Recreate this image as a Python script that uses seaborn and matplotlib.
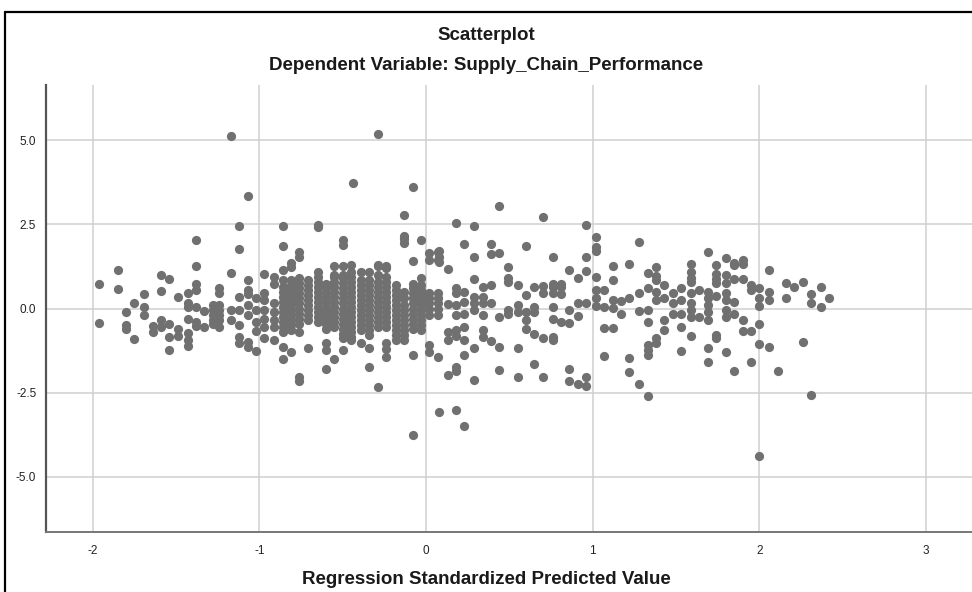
import matplotlib.pyplot as plt
import pandas as pd
import seaborn as sns
from matplotlib.lines import Line2D

# Standardized predicted values (x columns) and standardized residuals (y),
# read off the SPSS scatterplot, grouped by the vertical columns of points.

# left tail
left_pred = [-1.96, -1.85, -1.80, -1.75, -1.69, -1.64, -1.59, -1.54, -1.49,
             -1.43, -1.38, -1.33, -1.28, -1.24, -1.17, -1.12, -1.07, -1.02,
             -0.97, -0.91, -0.86, -0.81, -0.76]
left_resid = [
    [0.73, -0.42],
    [1.14, 0.57],
    [-0.10, -0.48, -0.60],
    [0.15, -0.90],
    [0.43, 0.05, -0.20],
    [-0.53, -0.70],
    [0.99, 0.52, -0.35, -0.55],
    [0.89, -0.47, -0.85, -1.24],
    [0.33, -0.60, -0.82],
    [0.45, 0.15, 0.05, -0.30, -0.74, -0.94, -1.12],
    [2.05, 1.26, 0.74, 0.54, 0.05, -0.40, -0.53],
    [-0.07, -0.55],
    [0.10, -0.05, -0.20, -0.35, -0.45],
    [0.60, 0.45, 0.10, -0.05, -0.20, -0.35, -0.55],
    [5.13, 1.06, -0.05, -0.35],
    [2.44, 1.76, 0.35, -0.05, -0.50, -0.86, -1.04],
    [3.35, 0.84, 0.54, 0.43, 0.10, -0.20, -0.99, -1.16],
    [0.30, -0.05, -0.40, -0.67, -1.26],
    [1.04, 0.45, 0.25, -0.05, -0.30, -0.55, -0.89],
    [0.94, 0.74, 0.15, -0.10, -0.35, -0.55, -0.94],
    [2.44, 1.87, 1.16, 0.84, 0.65, 0.50, 0.35, 0.20, 0.05, -0.10, -0.25,
     -0.40, -0.55, -0.70, -1.16, -1.49],
    [1.36, 1.24, 0.85, 0.70, 0.55, 0.40, 0.25, 0.10, -0.05, -0.20, -0.35,
     -0.50, -0.65, -1.29],
    [1.68, 1.52, 0.90, 0.75, 0.60, 0.45, 0.30, 0.15, 0.00, -0.15, -0.30,
     -0.45, -0.70, -2.04, -2.15],
]

# dense middle
core_pred = [-0.71, -0.65, -0.60, -0.55, -0.50, -0.45, -0.44, -0.39, -0.34,
             -0.29, -0.24, -0.18, -0.13, -0.08, -0.03, 0.02, 0.07]
core_resid = [
    [0.84, 0.70, 0.55, 0.40, 0.25, 0.10, -0.05, -0.20, -0.35, -1.19],
    [2.48, 2.43, 1.08, 0.95, 0.80, 0.65, 0.50, 0.35, 0.20, 0.05, -0.10,
     -0.25, -0.40],
    [0.74, 0.60, 0.45, 0.30, 0.15, 0.00, -0.15, -0.30, -0.45, -0.60, -1.04,
     -1.24, -1.79],
    [1.27, 1.00, 0.95, 0.80, 0.65, 0.50, 0.35, 0.20, 0.05, -0.10, -0.25,
     -0.40, -0.55, -1.49],
    [2.03, 1.88, 1.27, 1.00, 0.90, 0.75, 0.60, 0.45, 0.30, 0.15, 0.00,
     -0.15, -0.30, -0.45, -0.60, -0.75, -0.89, -1.24],
    [1.30, 1.10, 0.95, 0.80, 0.65, 0.50, 0.35, 0.20, 0.05, -0.10, -0.25,
     -0.40, -0.55, -0.70, -0.85, -0.94],
    [3.74],
    [1.09, 0.85, 0.70, 0.55, 0.40, 0.25, 0.10, -0.05, -0.20, -0.35, -0.50,
     -0.65, -1.04],
    [1.09, 0.85, 0.70, 0.55, 0.40, 0.25, 0.10, -0.05, -0.20, -0.35, -0.50,
     -0.65, -0.80, -1.19, -1.74],
    [5.19, 1.30, 1.27, 1.00, 0.80, 0.65, 0.50, 0.35, 0.20, 0.05, -0.10,
     -0.25, -0.40, -0.55, -2.33],
    [1.27, 1.20, 0.95, 0.80, 0.65, 0.50, 0.35, 0.20, 0.05, -0.10, -0.25,
     -0.40, -0.55, -1.04, -1.20, -1.44],
    [0.70, 0.55, 0.40, 0.25, 0.10, -0.05, -0.20, -0.35, -0.50, -0.65,
     -0.80, -0.94],
    [2.77, 2.17, 2.07, 1.94, 0.50, 0.30, 0.10, -0.05, -0.20, -0.35, -0.50,
     -0.65, -0.80, -0.94],
    [3.62, 1.41, 0.74, 0.60, 0.45, 0.30, 0.15, 0.00, -0.15, -0.30, -0.45,
     -0.60, -1.39, -3.76],
    [2.05, 0.90, 0.70, 0.55, 0.40, 0.25, 0.10, -0.05, -0.20, -0.35, -0.50,
     -0.65],
    [1.64, 1.44, 0.45, 0.30, 0.15, 0.00, -0.20, -1.09, -1.29],
    [1.68, 1.44, 0.45, 0.30, 0.15, 0.00, -0.20, -1.44],
]

# right side
right_pred = [0.08, 0.13, 0.18, 0.23, 0.29, 0.34, 0.39, 0.44, 0.49, 0.55,
              0.60, 0.65, 0.70, 0.76, 0.81, 0.86, 0.91, 0.96, 1.02, 1.07,
              1.12, 1.17, 1.22, 1.28, 1.33, 1.38, 1.43, 1.48, 1.53, 1.59,
              1.64, 1.69, 1.74, 1.80, 1.85, 1.90, 1.95, 2.00, 2.06, 2.11,
              2.16, 2.21, 2.26, 2.31, 2.37, 2.42]
right_resid = [
    [1.71, 1.52, 1.39, -3.08],
    [1.19, 0.13, -0.70, -0.94, -1.99],
    [2.55, 0.60, 0.45, 0.10, -0.20, -0.65, -0.82, -1.74, -1.85, -3.03],
    [1.91, 0.48, 0.20, -0.15, -0.55, -0.94, -1.39, -3.50],
    [2.45, 1.54, 0.87, 0.35, 0.15, -0.05, -1.19, -2.12],
    [0.64, 0.35, 0.15, -0.20, -0.65, -0.85],
    [1.91, 1.62, 0.71, 0.15, -0.97],
    [3.04, 1.65, -0.25, -1.15, -1.82],
    [1.24, 0.92, 0.79, -0.05, -0.15],
    [0.70, 0.10, -0.10, -1.17, -2.05],
    [1.86, 0.41, -0.10, -0.34, -0.61],
    [0.65, 0.05, -0.10, -0.75, -1.64],
    [2.71, 0.67, 0.45, -0.87, -2.04],
    [1.54, 0.74, 0.64, 0.45, 0.04, -0.31, -0.85, -0.94],
    [0.74, 0.64, 0.44, -0.40],
    [1.14, -0.05, -0.42, -1.79, -2.15],
    [0.91, 0.15, -0.21, -2.25],
    [2.47, 1.52, 1.13, 0.15, -2.03, -2.31],
    [2.13, 1.83, 1.71, 0.95, 0.54, 0.30, 0.08],
    [0.55, 0.03, -0.58, -1.41],
    [1.26, 0.84, 0.26, 0.02, -0.57],
    [0.21, -0.16],
    [1.32, 0.32, -1.46, -1.89],
    [1.99, 0.45, -0.06, -2.25],
    [1.05, 0.60, -0.05, -0.40, -1.09, -1.24, -1.37, -2.60],
    [1.24, 0.96, 0.85, 0.50, 0.25, -0.87, -1.02],
    [0.69, 0.30, -0.35, -0.65],
    [0.45, 0.15, -0.15],
    [0.62, 0.25, -0.15, -0.56, -1.26],
    [1.33, 1.10, 0.90, 0.78, 0.45, 0.15, -0.05, -0.25, -0.81],
    [0.55, -0.25],
    [1.68, 0.50, 0.30, 0.10, -0.10, -0.35, -1.19, -1.59],
    [1.28, 1.04, 0.89, 0.76, 0.36, -0.79, -0.89],
    [1.49, 0.99, 0.75, 0.45, 0.25, -0.05, -0.24, -1.29],
    [1.34, 1.29, 0.88, 0.20, -0.17, -1.86],
    [1.44, 1.31, 0.88, -0.34, -0.66],
    [0.69, 0.54, -0.67, -1.59],
    [0.60, 0.30, 0.08, -0.45, -1.06, -4.38],
    [1.16, 0.50, 0.26, -1.16],
    [-1.86],
    [0.76, 0.31],
    [0.65],
    [0.80, -0.99],
    [0.42, 0.17, -2.57],
    [0.63, 0.03],
    [0.31],
]

rows = []
for preds, resids in [(left_pred, left_resid), (core_pred, core_resid),
                      (right_pred, right_resid)]:
    for p, ys in zip(preds, resids):
        for r in ys:
            rows.append((p, r))
df = pd.DataFrame(rows, columns=["pred", "resid"])

sns.set_style("white")
plt.rcParams["font.family"] = ["Liberation Sans", "DejaVu Sans"]

fig = plt.figure(figsize=(9.72, 5.92), dpi=100)
ax = fig.add_axes([46 / 972, 60 / 592, 926 / 972, 447 / 592])
sns.scatterplot(data=df, x="pred", y="resid", ax=ax, color="#707070",
                s=44, linewidth=0, alpha=1, zorder=3)

ax.set_xlim(-2.28, 3.275)
ax.set_ylim(-6.65, 6.65)
ax.set_xticks([-2, -1, 0, 1, 2, 3])
ax.set_xticklabels(["-2", "-1", "0", "1", "2", "3"])
ax.set_yticks([-5, -2.5, 0, 2.5, 5])
ax.set_yticklabels(["-5.0", "-2.5", "0.0", "2.5", "5.0"])
ax.tick_params(length=0, labelsize=8.5, colors="#222222")
ax.tick_params(axis="x", pad=9)
ax.tick_params(axis="y", pad=7)
ax.set_xlabel("")
ax.set_ylabel("")
ax.grid(True, color="#cfcfcf", linewidth=1.1)
ax.set_axisbelow(True)
for side in ["top", "right"]:
    ax.spines[side].set_visible(False)
ax.spines["left"].set_color("#555555")
ax.spines["left"].set_linewidth(1.6)
ax.spines["bottom"].set_color("#777777")
ax.spines["bottom"].set_linewidth(1.4)

fig.text(0.5, 1 - 36 / 592, "Scatterplot", ha="center", va="center",
         fontsize=13.5, fontweight="bold", color="#1a1a1a")
fig.text(0.5, 1 - 66 / 592, "Dependent Variable: Supply_Chain_Performance",
         ha="center", va="center", fontsize=13.5, fontweight="bold",
         color="#1a1a1a")
fig.text(0.5, 1 - 580 / 592, "Regression Standardized Predicted Value",
         ha="center", va="center", fontsize=13.5, fontweight="bold",
         color="#1a1a1a")

# outer frame of the exported chart (left and top edges)
fig.add_artist(Line2D([5 / 972, 5 / 972], [0, 1 - 12 / 592],
                      transform=fig.transFigure, color="black", lw=1.6))
fig.add_artist(Line2D([5 / 972, 1], [1 - 12 / 592, 1 - 12 / 592],
                      transform=fig.transFigure, color="black", lw=1.6))

fig.savefig("out.png", dpi=100)
